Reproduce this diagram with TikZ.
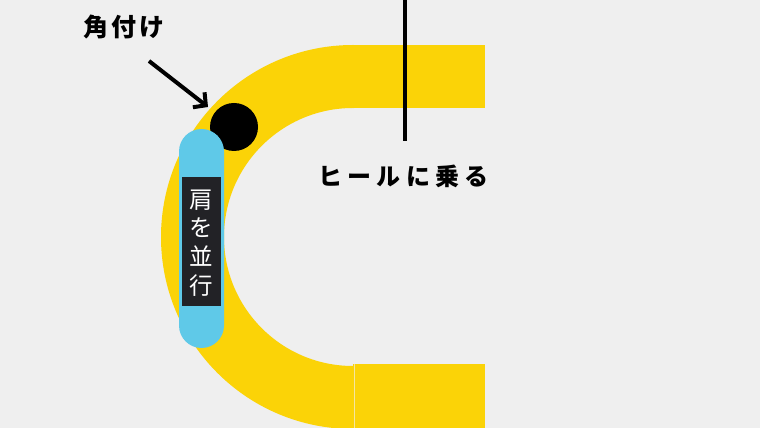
\documentclass[tikz,border=0pt]{standalone}
\usepackage{fontspec}
\newfontfamily\jp{Noto Sans CJK JP}
\usetikzlibrary{arrows.meta}
\definecolor{bg}{HTML}{EFEFEF}
\definecolor{ylw}{HTML}{FBD307}
\definecolor{pill}{HTML}{5FC9E8}
\definecolor{dark}{HTML}{222226}
\definecolor{seamc}{HTML}{F4E5A0}
\tikzset{
  lbl/.style={font=\jp\bfseries\fontsize{24}{28}\selectfont, text=black, inner sep=0pt},
  pointer/.style={line width=4pt, draw=black},
}
\begin{document}
\begin{tikzpicture}[x=1pt,y=1pt]
\fill[bg] (0,0) rectangle (760,428);
\useasboundingbox (0,0) rectangle (760,428);
% yellow C shape
\begin{scope}
\clip (0,0) rectangle (354,428);
\fill[ylw, even odd rule] (353,191) circle[radius=192pt] (353,191) circle[radius=129pt];
\end{scope}
\fill[ylw] (353,320) rectangle (485,383);
\fill[ylw] (353,0) rectangle (485,64);
\draw[seamc, line width=0.8pt] (354.5,0) -- (354.5,64);
% black circle
\fill[black] (234,301) circle[radius=24pt];
% blue pill
\node[fill=pill, rounded corners=22.5pt, minimum width=45pt, minimum height=219pt, inner sep=0pt] (pillnode) at (201.5,189.5) {};
\node[fill=dark, minimum width=39pt, minimum height=129pt, inner sep=0pt] (box) at (201.5,186.5) {};
\node[text=white, inner sep=0pt, align=center, font=\jp\fontsize{23.5}{28.7}\selectfont] (vtext) at (201.5,185) {肩\\を\\並\\行};
% label 角付け with arrow
\node[lbl, font=\jp\bfseries\fontsize{25}{28}\selectfont] (kado) at (124,401) {\addfontfeatures{LetterSpace=12}角付け};
\coordinate (a1) at (149,367);
\coordinate (a2) at (208,321);
\draw[pointer, -{Straight Barb[length=9pt,width=19pt]}] (a1) -- (a2);
% vertical line and label
\coordinate (v1) at (405,428);
\coordinate (v2) at (405,287);
\draw[line width=3.5pt] (v1) -- (v2);
\node[lbl] (heel) at (403.5,252) {\addfontfeatures{LetterSpace=22}ヒールに乗る};
\end{tikzpicture}
\end{document}
